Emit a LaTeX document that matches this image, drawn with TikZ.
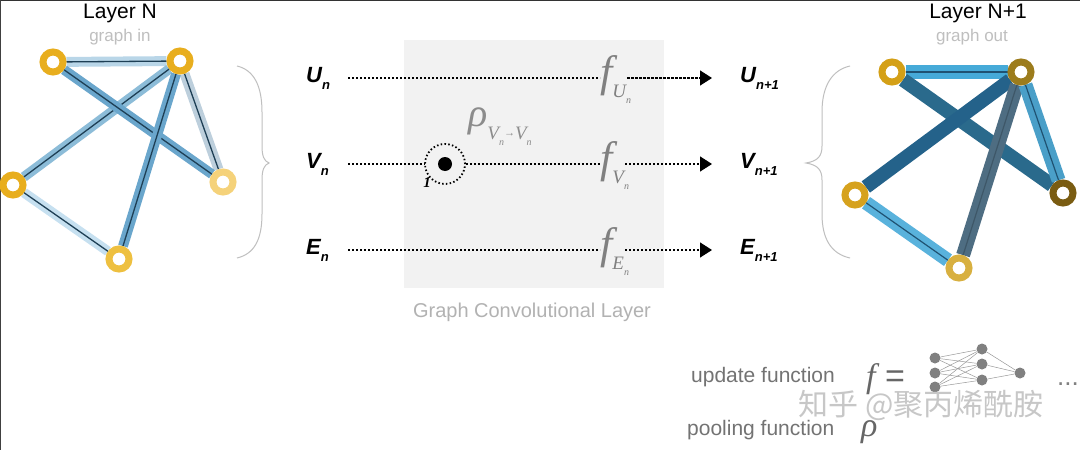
\documentclass[tikz,border=0pt]{standalone}
\usepackage{fontspec}
\setmainfont{Liberation Sans}
\newfontfamily\serifF{Liberation Serif}
\newfontfamily\cjk{Noto Sans CJK SC}
\usetikzlibrary{arrows.meta}
\pgfdeclarelayer{back}
\pgfdeclarelayer{edges}
\pgfsetlayers{back,edges,main}
\definecolor{ringA}{HTML}{E8AE1E}
\definecolor{ringL}{HTML}{F5D27A}
\definecolor{ringM}{HTML}{EEC040}
\definecolor{rA}{HTML}{D4A017}
\definecolor{rB}{HTML}{9C7C1C}
\definecolor{rC}{HTML}{D6A21E}
\definecolor{rD}{HTML}{7A5C12}
\definecolor{rE}{HTML}{D8B040}
\definecolor{boxgray}{HTML}{F2F2F2}
\definecolor{hLight}{HTML}{B9D6E8}
\definecolor{hMid}{HTML}{8CBCD8}
\definecolor{hStrong}{HTML}{6AA6CC}
\definecolor{hGray}{HTML}{BDCFDC}
\definecolor{hPale}{HTML}{C6E0F0}
\definecolor{coreL}{HTML}{1E3F55}
\definecolor{eLight}{HTML}{46AAD8}
\definecolor{eMid}{HTML}{4A9FC8}
\definecolor{eDark}{HTML}{2A6A8C}
\definecolor{eDark2}{HTML}{24628A}
\definecolor{eGray}{HTML}{4E6D82}
\definecolor{eCore}{HTML}{1F5272}
\newcommand{\vlab}[2]{{\bfseries\itshape #1}\raisebox{-7pt}{\fontsize{13}{13}\selectfont\bfseries\itshape #2}}
\newcommand{\flab}[2]{{\serifF\itshape f}\raisebox{-11pt}{\fontsize{19}{19}\selectfont\serifF\itshape #1\raisebox{-6pt}{\fontsize{10}{10}\selectfont #2}}}
\begin{document}
\begin{tikzpicture}[x=1pt,y=-1pt,
  gn/.style={circle, draw=#1, line width=7pt, fill=white, minimum size=20pt, inner sep=0pt},
  ed/.style 2 args={draw=#1, double=#2, line width=4.3pt, double distance=1.3pt},
  edR/.style 2 args={draw=#1, double=#2, line width=6.4pt, double distance=1.2pt},
  dotln/.style={line width=1.3pt, dash pattern=on 2.2pt off 1.8pt},
  arr/.style={-{Triangle[length=12pt,width=15pt]}},
  vtxt/.style={font=\fontsize{22}{24}\selectfont, inner sep=0pt},
  ftxt/.style={font=\fontsize{44}{44}\selectfont, text=black!50, inner sep=0pt},
  title/.style={font=\fontsize{21}{24}\selectfont, inner sep=0pt},
  sub/.style={font=\fontsize{17}{20}\selectfont, text=black!25, inner sep=0pt},
  brace/.style={draw=black!25, line width=1pt},
  nnode/.style={circle, fill=black!50, minimum size=11pt, inner sep=0pt},
  nnedge/.style={draw=black!40, line width=0.5pt}
]
\useasboundingbox (0,0) rectangle (1080,450);
\begin{pgfonlayer}{back}
\fill[white] (0,0) rectangle (1080,450);
\fill[boxgray] (404,40) rectangle (664,288);
\end{pgfonlayer}
\draw[black!80, line width=1.5pt] (0,0.7) -- (1080,0.7);
\draw[black!75, line width=1.5pt] (0.7,0) -- (0.7,450);

% titles
\node[title] (tL) at (120,13) {Layer N};
\node[sub] (sL) at (120,37) {graph in};
\node[title] (tR) at (978,13) {Layer N+1};
\node[sub] (sR) at (972,37) {graph out};

% left graph
\node[gn=ringA] (A) at (53,62) {};
\node[gn=ringA] (B) at (180,61) {};
\node[gn=ringA] (C) at (13,185) {};
\node[gn=ringL] (D) at (223,182) {};
\node[gn=ringM] (E) at (119,259) {};
\begin{pgfonlayer}{edges}
\draw[ed={hLight}{coreL}] (A) -- (B);
\draw[ed={hMid}{coreL}] (B) -- (C);
\draw[ed={hGray}{coreL}] (B) -- (D);
\draw[ed={hPale}{coreL}] (C) -- (E);
\draw[ed={hStrong}{coreL}] (A) -- (D);
\draw[ed={hStrong}{coreL}] (B) -- (E);
\end{pgfonlayer}

% right graph
\node[gn=rA] (A2) at (892,72) {};
\node[gn=rB] (B2) at (1021,72) {};
\node[gn=rC] (C2) at (855,195) {};
\node[gn=rD] (D2) at (1063,193) {};
\node[gn=rE] (E2) at (959,268) {};
\begin{pgfonlayer}{edges}
\draw[edR={eLight}{eCore}] (A2) -- (B2);
\draw[edR={eDark}{eDark}] (A2) -- (D2);
\draw[edR={eDark2}{eDark2}] (B2) -- (C2);
\draw[edR={eGray}{eGray!80!black}] (B2) -- (E2);
\draw[edR={eMid}{eCore}] (B2) -- (D2);
\draw[edR={eLight!90!white}{eCore}] (C2) -- (E2);
\end{pgfonlayer}

% braces
\draw[brace] (237,66) .. controls (254,70) and (262,86) .. (262,112) -- (262,146)
  .. controls (262,156) and (264,161) .. (269,163)
  .. controls (264,165) and (262,170) .. (262,180) -- (262,214)
  .. controls (262,240) and (254,254) .. (237,258);
\draw[brace] (850,66) .. controls (832,70) and (822,86) .. (822,112) -- (822,146)
  .. controls (822,156) and (818,161) .. (806,163)
  .. controls (818,165) and (822,170) .. (822,180) -- (822,214)
  .. controls (822,240) and (832,254) .. (850,258);

\node[font=\fontsize{20}{22}\selectfont, text=black!30] (gcl) at (532,312) {Graph Convolutional Layer};

% row labels
\node[vtxt, anchor=west] (Un) at (306,78) {\vlab{U}{n}};
\node[vtxt, anchor=west] (Vn) at (306,164) {\vlab{V}{n}};
\node[vtxt, anchor=west] (En) at (306,250) {\vlab{E}{n}};
\node[vtxt, anchor=west] (Un1) at (740,78) {\vlab{U}{n+1}};
\node[vtxt, anchor=west] (Vn1) at (740,164) {\vlab{V}{n+1}};
\node[vtxt, anchor=west] (En1) at (740,250) {\vlab{E}{n+1}};

% f nodes
\node[ftxt, anchor=west] (fU) at (600,80) {\flab{U}{n}};
\node[ftxt, anchor=west] (fV) at (600,166) {\flab{V}{n}};
\node[ftxt, anchor=west] (fE) at (600,252) {\flab{E}{n}};

\coordinate (u0) at (348,78);
\coordinate (v0) at (348,164);
\coordinate (e0) at (348,250);
\coordinate (uT) at (712,78);
\coordinate (vT) at (712,164);
\coordinate (eT) at (712,250);

% pooling circle
\node[circle, fill=black, minimum size=14pt, inner sep=0pt] (dot) at (445,164) {};
\node[circle, draw=black, line width=1.8pt, dash pattern=on 1.5pt off 2.3pt, minimum size=40pt, inner sep=0pt] (ring) at (445,164) {};
\node[font=\serifF\bfseries\itshape\fontsize{15}{15}\selectfont, inner sep=0pt] (one) at (427,183) {1};
\node[font=\fontsize{40}{40}\selectfont, text=black!45, inner sep=0pt, anchor=west] (rho) at (468,127)
  {{\serifF\itshape ρ}\raisebox{-13pt}{\fontsize{19}{19}\selectfont\serifF\itshape V\raisebox{-6pt}{\fontsize{10}{10}\selectfont n}\raisebox{3pt}{\fontsize{11}{11}\selectfont →}V\raisebox{-6pt}{\fontsize{10}{10}\selectfont n}}};

% dotted connectors
\draw[dotln] (u0) -- (u0 -| fU.west);
\draw[dotln] (v0) -- (ring.west |- v0);
\draw[dotln] (ring.east |- v0) -- (v0 -| fV.west);
\draw[dotln] (e0) -- (e0 -| fE.west);
\draw[dotln, arr] (fU.east |- u0) ++(-4,0) -- (uT);
\draw[dotln, arr] (fV.east |- v0) ++(-4,0) -- (vT);
\draw[dotln, arr] (fE.east |- e0) ++(-4,0) -- (eT);

% legend
\node[font=\fontsize{21}{24}\selectfont, text=black!55, anchor=west, inner sep=0pt] (upd) at (691,377) {update function};
\node[font=\fontsize{34}{34}\selectfont, text=black!60, anchor=west, inner sep=0pt] (feq) at (866,379) {{\serifF\itshape f} =};
\node[font=\fontsize{21}{24}\selectfont, text=black!55, anchor=west, inner sep=0pt] (pool) at (687,430) {pooling function};
\node[font=\fontsize{34}{34}\selectfont, text=black!60, anchor=west, inner sep=0pt] (prho) at (861,432) {\serifF\itshape ρ};

% neural net icon
\node[nnode] (i1) at (935,358) {};
\node[nnode] (i2) at (935,373) {};
\node[nnode] (i3) at (935,387) {};
\node[nnode] (h1) at (982,349) {};
\node[nnode] (h2) at (982,364) {};
\node[nnode] (h3) at (982,380) {};
\node[nnode] (o1) at (1020,373) {};
\foreach \i in {i1,i2,i3}{\foreach \h in {h1,h2,h3}{\draw[nnedge] (\i) -- (\h);}}
\foreach \h in {h1,h2,h3}{\draw[nnedge] (\h) -- (o1);}
\node[font=\fontsize{26}{26}\selectfont, text=black!50, inner sep=0pt] (dots) at (1068,384) {...};

% watermark
\node[font=\cjk\fontsize{30}{30}\selectfont, text=black!22, inner sep=0pt] (wm) at (921,405) {知乎 @聚丙烯酰胺};
\end{tikzpicture}
\end{document}
